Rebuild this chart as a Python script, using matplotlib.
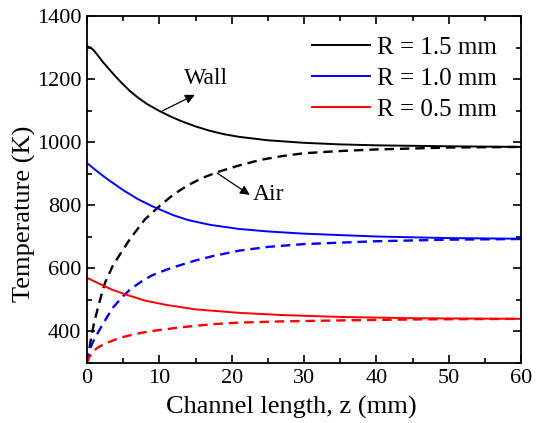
import matplotlib
matplotlib.use("Agg")
import matplotlib.pyplot as plt
import numpy as np

plt.rcParams['font.family'] = ['Liberation Serif', 'DejaVu Serif']

# Wall temperatures (solid)
z_w15 = [0, 0.4, 0.9, 1.5, 2.2, 3, 3.8, 4.7, 5.9, 7, 8.3, 10, 11.5, 13, 15, 17, 19, 21, 25, 30, 35, 40, 50, 60]
T_w15 = [1304, 1301, 1292, 1275, 1254, 1233, 1212, 1190, 1163, 1142, 1121, 1099, 1082, 1067, 1050, 1036, 1025, 1017, 1006, 998, 993, 990, 987, 985]
z_w10 = [0, 1, 2, 3, 5, 7, 9, 12, 14, 17, 21, 25, 30, 40, 50, 60]
T_w10 = [934, 915, 897, 880, 848, 820, 797, 768, 753, 738, 725, 717, 710, 701, 696, 694]
z_w05 = [0, 1, 2, 3.5, 5.5, 8, 11, 15, 21, 27, 35, 45, 60]
T_w05 = [570, 559, 548, 532, 516, 498, 484, 470, 459, 452, 446, 442, 440]

# Air temperatures (dashed)
z_a15 = [0, 0.5, 1, 1.8, 2.5, 3.6, 5, 6, 8, 10, 12, 14, 16, 18, 21, 24, 27, 30, 35, 40, 50, 60]
T_a15 = [300, 370, 430, 500, 555, 610, 660, 695, 755, 797, 835, 864, 887, 905, 926, 944, 956, 965, 972, 977, 983, 985]
z_a10 = [0, 0.4, 1, 1.8, 2.7, 3.6, 5, 6, 7.5, 9, 11, 13, 15, 17.4, 21, 25, 30, 40, 50, 60]
T_a10 = [300, 345, 375, 408, 443, 476, 512, 534, 558, 578, 596, 611, 625, 639, 656, 668, 677, 686, 691, 693]
z_a05 = [0, 0.3, 0.7, 1.3, 2.5, 4.6, 6.5, 8.3, 10.5, 12.9, 17.4, 21, 27, 35, 45, 60]
T_a05 = [300, 318, 332, 346, 362, 380, 391, 399, 406, 413, 423, 428, 432, 435, 438, 440]

labels = ['R = 1.5 mm', 'R = 1.0 mm', 'R = 0.5 mm']
colors = ['black', '#0000ff', '#ff0000']

fig = plt.figure(figsize=(5.40, 4.23), dpi=100)
ax = fig.add_axes([87/540, 1-363/423, (521-87)/540, (363-16)/423])

walls = [(z_w15, T_w15), (z_w10, T_w10), (z_w05, T_w05)]
airs = [(z_a15, T_a15), (z_a10, T_a10), (z_a05, T_a05)]
for (zw, tw), (za, ta), lab, c in zip(walls, airs, labels, colors):
    ax.plot(zw, tw, color=c, lw=1.4, label=lab, solid_joinstyle='round')
    ax.plot(za, ta, color=c, lw=1.7, dashes=(4, 2.5))

ax.set_xlim(0, 60)
ax.set_ylim(300, 1400)
ax.set_xticks(np.arange(0, 61, 10))
ax.set_yticks(np.arange(400, 1401, 200))
ax.set_xticks(np.arange(0, 61, 5), minor=True)
ax.set_yticks(np.arange(300, 1401, 100), minor=True)
ax.tick_params(which='both', direction='in', top=True, right=True, width=1.2)
ax.tick_params(which='major', length=6, labelsize=16, pad=4)
ax.tick_params(which='minor', length=3.5)
for s in ax.spines.values():
    s.set_linewidth(1.3)

ax.set_xlabel('Channel length, z (mm)', fontsize=19)
ax.set_ylabel('Temperature (K)', fontsize=19)
ax.xaxis.set_label_coords(0.471, -0.096)
ax.yaxis.set_label_coords(-0.118, 0.43)

arrow = dict(arrowstyle='-|>', color='black', lw=0.9, shrinkA=0, shrinkB=0, mutation_scale=14)
ax.text(16.5, 1203, 'Wall', fontsize=17, ha='center', va='center')
ax.annotate('', xy=(14.9, 1150), xytext=(10.4, 1099), arrowprops=arrow)
ax.annotate('', xy=(22.5, 833), xytext=(18.0, 902), arrowprops=arrow)
ax.text(22.9, 833, 'Air', fontsize=17, ha='left', va='center')

leg = ax.legend(loc='upper right', fontsize=18, frameon=False, handlelength=2.3,
                handletextpad=0.3, labelspacing=0.34, borderaxespad=0.0,
                bbox_to_anchor=(0.968, 0.970))

fig.savefig('out.png', dpi=100)
